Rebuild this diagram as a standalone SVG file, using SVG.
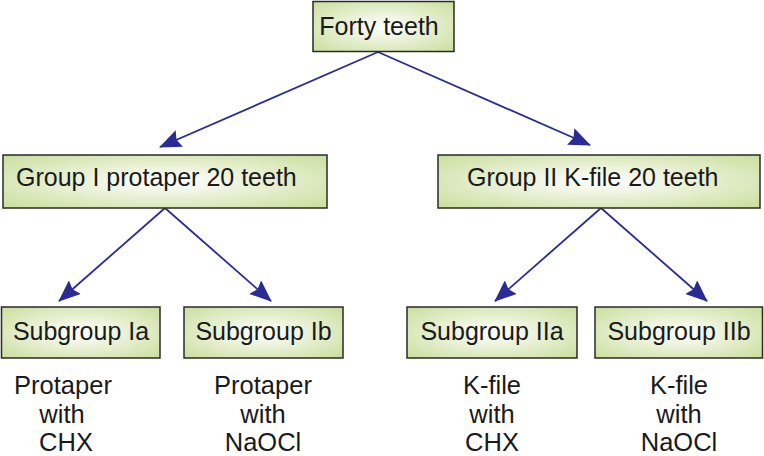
<svg xmlns="http://www.w3.org/2000/svg" width="764" height="456" viewBox="0 0 764 456">
<defs>
<radialGradient id="g" cx="0.5" cy="0.5" r="0.75" gradientUnits="objectBoundingBox">
<stop offset="0" stop-color="#ffffff"/>
<stop offset="1" stop-color="#c6dc96"/>
</radialGradient>
<marker id="ah" viewBox="0 0 22 18" refX="21" refY="9" markerWidth="22" markerHeight="18" markerUnits="userSpaceOnUse" orient="auto">
<path d="M0,0 L22,9 L0,18 L3,9 Z" fill="#2b2b96"/>
</marker>
<style>
.box{fill:url(#g);stroke:#2a2a2a;stroke-width:1.5}
.t{font-family:"Liberation Sans",Arial,sans-serif;font-size:25px;fill:#1a1a1a}
.l{font-size:25.5px}
.c{text-anchor:middle}
.ln{stroke:#2b2b96;stroke-width:1.8;fill:none;marker-end:url(#ah)}
</style>
</defs>
<rect width="764" height="456" fill="#ffffff"/>
<g id="connectors">
<line class="ln" x1="378" y1="52" x2="160" y2="147"/>
<line class="ln" x1="378" y1="52" x2="590" y2="145"/>
<line class="ln" x1="165" y1="208" x2="59" y2="301"/>
<line class="ln" x1="165" y1="208" x2="271" y2="301"/>
<line class="ln" x1="601" y1="208" x2="495" y2="301"/>
<line class="ln" x1="601" y1="208" x2="707" y2="301"/>
</g>
<g id="forty">
<rect class="box" x="313" y="1.5" width="141" height="50"/>
<text class="t c" x="379" y="35">Forty teeth</text>
</g>
<g id="group1">
<rect class="box" x="3" y="155" width="324" height="53"/>
<text class="t" x="16" y="186">Group I protaper 20 teeth</text>
</g>
<g id="group2">
<rect class="box" x="438" y="155" width="322" height="53"/>
<text class="t" x="467" y="186">Group II K-file 20 teeth</text>
</g>
<g id="sub1a">
<rect class="box" x="1.5" y="307" width="158.5" height="51"/>
<text class="t c" x="81" y="340">Subgroup Ia</text>
</g>
<g id="sub1b">
<rect class="box" x="184" y="307" width="159" height="51"/>
<text class="t c" x="263.5" y="340">Subgroup Ib</text>
</g>
<g id="sub2a">
<rect class="box" x="407" y="307" width="170" height="51"/>
<text class="t c" x="492" y="340">Subgroup IIa</text>
</g>
<g id="sub2b">
<rect class="box" x="595" y="307" width="167.5" height="51"/>
<text class="t c" x="679" y="340">Subgroup IIb</text>
</g>
<g id="labels">
<text class="t l c" x="63" y="394">Protaper</text>
<text class="t l c" x="62" y="422.5">with</text>
<text class="t l c" x="66" y="451">CHX</text>
<text class="t l c" x="263" y="394">Protaper</text>
<text class="t l c" x="263" y="422.5">with</text>
<text class="t l c" x="263" y="451">NaOCl</text>
<text class="t l c" x="492" y="394">K-file</text>
<text class="t l c" x="492" y="422.5">with</text>
<text class="t l c" x="492" y="451">CHX</text>
<text class="t l c" x="679" y="394">K-file</text>
<text class="t l c" x="679" y="422.5">with</text>
<text class="t l c" x="679" y="451">NaOCl</text>
</g>
</svg>
